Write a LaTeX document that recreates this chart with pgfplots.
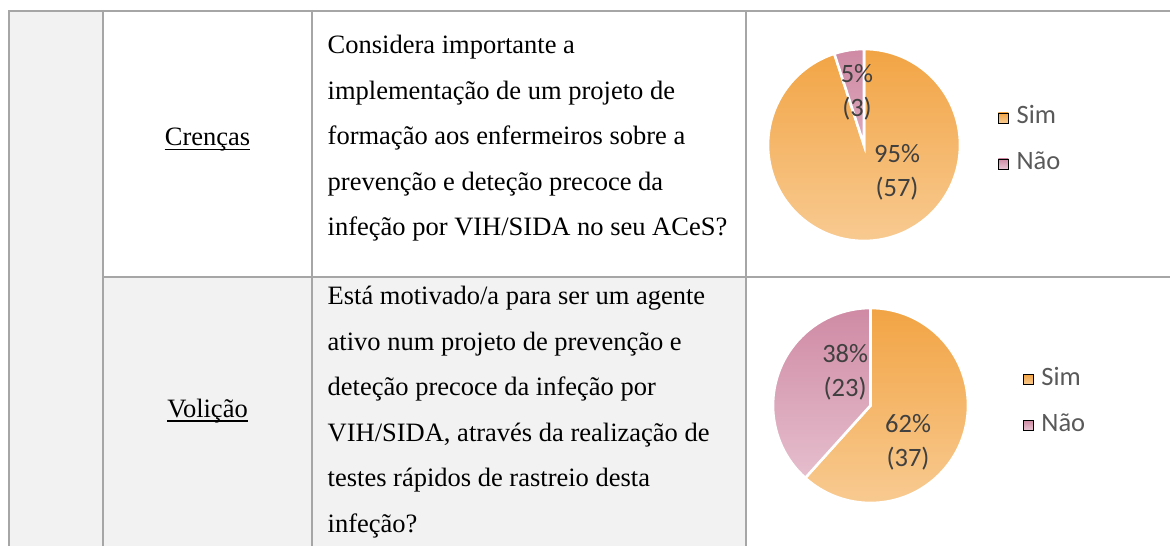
\documentclass[border=0pt]{standalone}
\usepackage{pgfplots}
\pgfplotsset{compat=1.18}
\usepackage{pgfplotstable}
\usepackage{fontspec}
\setmainfont{Liberation Serif}
\newfontfamily\carlito{Carlito}
\definecolor{gridc}{HTML}{A6A6A6}
\definecolor{cellg}{HTML}{F2F2F2}
\definecolor{simtop}{HTML}{F2A444}
\definecolor{simbot}{HTML}{F8CA91}
\definecolor{naotop}{HTML}{CF8AA4}
\definecolor{naobot}{HTML}{E9C6D3}
\definecolor{lbl}{HTML}{404040}
\definecolor{leg}{HTML}{595959}

\pgfplotstableread{
resp n
1 57
2 3
}\crencas
\pgfplotstableread{
resp n
1 37
2 23
}\volicao
\pgfplotstablegetelem{0}{n}\of\crencas \edef\cSim{\pgfplotsretval}
\pgfplotstablegetelem{1}{n}\of\crencas \edef\cNao{\pgfplotsretval}
\pgfplotstablegetelem{0}{n}\of\volicao \edef\vSim{\pgfplotsretval}
\pgfplotstablegetelem{1}{n}\of\volicao \edef\vNao{\pgfplotsretval}
\pgfmathsetmacro\cAng{90-360*(\cSim/(\cSim+\cNao))}
\pgfmathsetmacro\vAng{90-360*(\vSim/(\vSim+\vNao))}

\pgfplotsset{
  pieaxis/.style={scale only axis, xmin=-1, xmax=1, ymin=-1, ymax=1,
    hide axis, clip=false, anchor=center,
    legend style={anchor=west, draw=none, fill=none, inner sep=0pt,
      font=\carlito\fontsize{26.5}{30}\selectfont, text=leg,
      column sep=8pt, row sep=24pt,
      nodes={inner sep=0pt, text height=17pt, text depth=5pt}},
    legend cell align=left},
}
\newcommand\simimg{\addlegendimage{legend image code/.code={\path[top color=simtop,bottom color=simbot] (0pt,-5pt) rectangle (10pt,5pt);}}}
\newcommand\naoimg{\addlegendimage{legend image code/.code={\path[top color=naotop,bottom color=naobot] (0pt,-5pt) rectangle (10pt,5pt);}}}

\begin{document}
\begin{tikzpicture}[x=1pt,y=1pt]
\useasboundingbox (0,0) rectangle (1170,546);
\coordinate (pieA) at (864,401);
\coordinate (pieB) at (870.5,140.5);
% cell backgrounds
\fill[cellg] (9,0) rectangle (103,535);
\fill[cellg] (103,0) rectangle (746,269);
% grid
\begin{scope}[draw=gridc, line width=2.4pt]
\draw (7.8,535) -- (1170,535);
\draw (9,536.2) -- (9,0);
\draw (103,536.2) -- (103,0);
\draw (312,536.2) -- (312,0);
\draw (746,536.2) -- (746,0);
\draw (103,269) -- (1170,269);
\end{scope}
% table text
\begin{scope}[every node/.style={inner sep=0pt, font=\fontsize{26.5}{45}\selectfont}]
\node[anchor=base] (cr) at (207.5,400) {Crenças};
\draw[line width=1.3pt] ([yshift=-3.6pt]cr.base west) -- ([yshift=-3.6pt]cr.base east);
\node[anchor=base] (vo) at (207.5,128.5) {Volição};
\draw[line width=1.3pt] ([yshift=-3.6pt]vo.base west) -- ([yshift=-3.6pt]vo.base east);
\node[anchor=base west] at (327.5,492) {Considera importante a};
\node[anchor=base west] at (327.5,446.5) {implementação de um projeto de};
\node[anchor=base west] at (327.5,401) {formação aos enfermeiros sobre a};
\node[anchor=base west] at (327.5,355.5) {prevenção e deteção precoce da};
\node[anchor=base west] at (327.5,310) {infeção por VIH/SIDA no seu ACeS?};
\node[anchor=base west] at (327.5,241) {Está motivado/a para ser um agente};
\node[anchor=base west] at (327.5,195.5) {ativo num projeto de prevenção e};
\node[anchor=base west] at (327.5,150) {deteção precoce da infeção por};
\node[anchor=base west] at (327.5,104.5) {VIH/SIDA, através da realização de};
\node[anchor=base west] at (327.5,59) {testes rápidos de rastreio desta};
\node[anchor=base west] at (327.5,13.5) {infeção?};
\end{scope}

% pie 1
\begin{axis}[pieaxis, at={(pieA)}, width=192pt, height=192pt,
  legend style={at={(axis description cs:1.198,0.521)}}]
\simimg \addlegendentry{Sim}
\naoimg \addlegendentry{Não}
\path[draw=white, line width=2.6pt, top color=simtop, bottom color=simbot]
  (axis cs:-1,-1) (axis cs:1,1)
  (axis cs:0,0) -- ++(90:96pt) arc[start angle=90, end angle=\cAng, radius=96pt] -- cycle;
\path[draw=white, line width=2.6pt, top color=naotop, bottom color=naobot]
  (axis cs:-1,-1) (axis cs:1,1)
  (axis cs:0,0) -- ++(\cAng:96pt) arc[start angle=\cAng, end angle=-270, radius=96pt] -- cycle;
\node[font=\carlito\fontsize{26.5}{34}\selectfont, text=lbl, align=center, inner sep=0pt] at (axis cs:-0.073,0.552) {5\%\\(3)};
\node[font=\carlito\fontsize{26.5}{34}\selectfont, text=lbl, align=center, inner sep=0pt] at (axis cs:0.344,-0.281) {95\%\\(57)};
\end{axis}

% pie 2
\begin{axis}[pieaxis, at={(pieB)}, width=195pt, height=195pt,
  legend style={at={(axis description cs:1.281,0.516)}}]
\simimg \addlegendentry{Sim}
\naoimg \addlegendentry{Não}
\path[draw=white, line width=2.6pt, top color=simtop, bottom color=simbot]
  (axis cs:-1,-1) (axis cs:1,1)
  (axis cs:0,0) -- ++(90:97.5pt) arc[start angle=90, end angle=\vAng, radius=97.5pt] -- cycle;
\path[draw=white, line width=2.6pt, top color=naotop, bottom color=naobot]
  (axis cs:-1,-1) (axis cs:1,1)
  (axis cs:0,0) -- ++(\vAng:97.5pt) arc[start angle=\vAng, end angle=-270, radius=97.5pt] -- cycle;
\node[font=\carlito\fontsize{26.5}{34}\selectfont, text=lbl, align=center, inner sep=0pt] at (axis cs:-0.26,0.344) {38\%\\(23)};
\node[font=\carlito\fontsize{26.5}{34}\selectfont, text=lbl, align=center, inner sep=0pt] at (axis cs:0.385,-0.374) {62\%\\(37)};
\end{axis}
\end{tikzpicture}
\end{document}
